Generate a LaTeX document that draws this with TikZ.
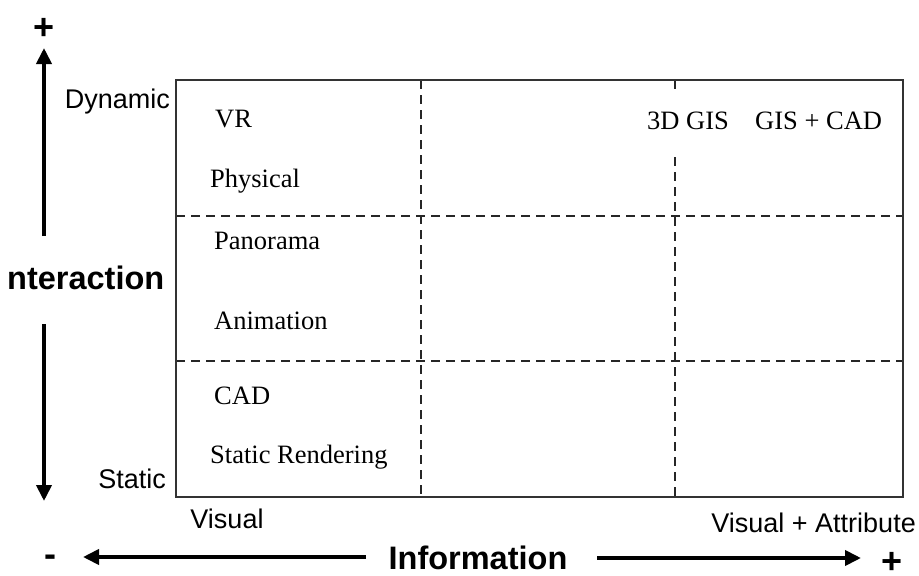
\documentclass[tikz,border=0pt]{standalone}
\usepackage{fontspec}
\setmainfont{Liberation Serif}
\setsansfont{Liberation Sans}
\usetikzlibrary{arrows.meta}
\tikzset{
  frame/.style={draw=black!80, line width=1.6pt},
  grid/.style={draw=black!85, line width=1.3pt, dash pattern=on 9pt off 6pt},
  axis/.style={line width=3.8pt, -{Triangle[length=16pt,width=15pt]}},
  cell/.style={font=\fontsize{26.5}{26.5}\selectfont, anchor=west, inner sep=0pt},
  tick/.style={font=\sffamily\fontsize{27}{27}\selectfont, inner sep=0pt},
  title/.style={font=\sffamily\bfseries\fontsize{32.5}{32.5}\selectfont, inner sep=0pt},
  sign/.style={font=\sffamily\bfseries\fontsize{36}{36}\selectfont, inner sep=0pt,
    anchor=base}
}
\begin{document}
\begin{tikzpicture}[x=1pt,y=-1pt]
\useasboundingbox (0,0) rectangle (919,576);

% quadrant frame and dashed grid
\draw[grid] (176,216) -- (903,216);
\draw[grid] (176,361) -- (903,361);
\draw[grid] (421,80) -- (421,497);
\draw[grid] (675,80) -- (675,95);
\draw[grid] (675,157) -- (675,497);
\draw[frame] (176,80) rectangle (903,497);

% cell entries
\node[cell] (vr)   at (215,119) {VR};
\node[cell] (phys) at (210,181) {Physical};
\node[cell] (pano) at (214,241) {Panorama};
\node[cell] (anim) at (214,321) {Animation};
\node[cell] (cad)  at (214,396) {CAD};
\node[cell] (stat) at (210,457) {Static Rendering};
\node[cell] (gis)  at (647,121) {3D GIS};
\node[cell] (gcad) at (755,121) {GIS + CAD};

% axis end labels
\node[tick, anchor=east] (dyn)  at (170,102) {Dynamic};
\node[tick, anchor=east] (sta)  at (166,479) {Static};
\node[tick] (vis)  at (227,519) {Visual};
\node[tick, anchor=east] (visa) at (916,523) {Visual + Attribute};

% vertical axis
\node[sign] (vplus) at (44,39) {+};
\node[title, anchor=west] (inter) at (7,278) {nteraction};
\coordinate (vtop) at (44,48);
\coordinate (vtopstart) at (44,236);
\coordinate (vbotstart) at (44,324);
\coordinate (vbot) at (44,501);
\draw[axis] (vtopstart) -- (vtop);
\draw[axis] (vbotstart) -- (vbot);

% horizontal axis
\node[sign] (hminus) at (50,566) {-};
\node[title] (info) at (478,558) {Information};
\node[sign] (hplus) at (892,573) {+};
\coordinate (hleft) at (83,557);
\coordinate (hleftstart) at (366,557);
\coordinate (hrightstart) at (597,558);
\coordinate (hright) at (861,558);
\draw[axis] (hleftstart) -- (hleft);
\draw[axis] (hrightstart) -- (hright);
\end{tikzpicture}
\end{document}
